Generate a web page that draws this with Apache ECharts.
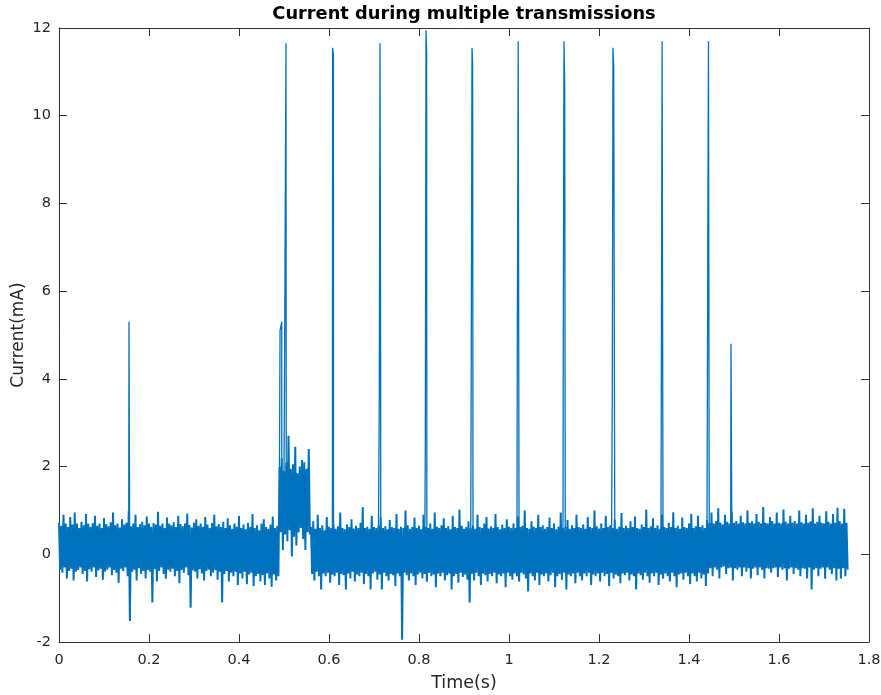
<!DOCTYPE html>
<html>
<head>
<meta charset="utf-8">
<script src="https://cdn.jsdelivr.net/npm/echarts@6/dist/echarts.min.js"></script>
<style>html,body{margin:0;padding:0;background:#fff}#c{width:881px;height:695px}</style>
</head>
<body>
<div id="c"></div>
<script>
// ---- data ----
const sampleStep = 0.005;          // seconds between band samples (upper at t, lower at t+step/2)
const xTicks = [0, 0.2, 0.4, 0.6, 0.8, 1, 1.2, 1.4, 1.6, 1.8];
const yTicks = [-2, 0, 2, 4, 6, 8, 10, 12];

// region A: 0.000 - 0.485 s (idle noise)
const idleUpper = [0.72,0.65,0.9,0.7,0.62,0.85,0.68,0.95,0.7,0.6,
0.74,0.66,0.92,0.7,0.63,0.71,0.88,0.65,0.7,0.6,
0.82,0.69,0.64,0.73,0.95,0.66,0.7,0.61,0.8,0.68,
0.72,1.0,0.64,0.7,0.9,0.62,0.69,0.74,0.66,0.86,
0.7,0.63,0.71,0.68,0.97,0.65,0.7,0.6,0.84,0.7,
0.66,0.73,0.62,0.88,0.69,0.64,0.7,0.93,0.67,0.61,
0.72,0.8,0.65,0.7,0.63,0.85,0.68,0.6,0.71,0.9,
0.64,0.69,0.62,0.74,0.6,0.82,0.66,0.58,0.7,0.63,
0.87,0.6,0.68,0.57,0.72,0.62,0.92,0.6,0.66,0.55,
0.7,0.8,0.62,0.58,0.68,0.86,0.6,0.65];
const idleLower = [-0.35,-0.42,-0.3,-0.55,-0.38,-0.33,-0.6,-0.4,-0.36,-0.3,
-0.45,-0.38,-0.62,-0.34,-0.4,-0.3,-0.52,-0.37,-0.33,-0.58,
-0.4,-0.35,-0.3,-0.48,-0.36,-0.42,-0.65,-0.33,-0.38,-0.3,
-0.5,-1.52,-0.4,-0.35,-0.6,-0.32,-0.45,-0.38,-0.55,-0.36,
-0.4,-1.1,-0.34,-0.62,-0.38,-0.3,-0.45,-0.56,-0.35,-0.4,
-0.33,-0.5,-0.38,-0.66,-0.36,-0.42,-0.3,-0.48,-1.22,-0.37,
-0.4,-0.55,-0.34,-0.44,-0.6,-0.38,-0.35,-0.5,-0.42,-0.36,
-0.58,-0.4,-1.1,-0.45,-0.38,-0.62,-0.42,-0.5,-0.4,-0.7,
-0.44,-0.55,-0.4,-0.68,-0.46,-0.42,-0.72,-0.5,-0.45,-0.62,
-0.48,-0.7,-0.44,-0.55,-0.74,-0.46,-0.6,-0.5];

// region B: 0.490 - 0.555 s (elevated)
const activeUpper = [2.0,2.2,1.9,2.1,2.7,1.95,2.05,2.45,1.85,2.0,2.15,2.1,1.95,2.4];
const activeLower = [0.5,0.1,0.45,0.3,0.55,-0.05,0.4,0.2,0.5,0.6,0.35,0.1,0.5,0.45];

// region C: 0.560 - 1.440 s
const txUpper = [0.62,0.75,0.58,0.9,0.6,0.66,0.55,0.85,0.63,0.6,
0.7,0.58,0.64,0.95,0.6,0.57,0.68,0.62,0.8,0.59,
0.65,0.6,0.72,1.08,0.6,0.63,0.58,0.88,0.62,0.6,
0.66,0.85,0.6,0.64,0.57,0.78,0.62,0.6,0.92,0.58,
0.63,0.6,1.0,0.66,0.58,0.62,0.84,0.6,0.65,0.57,
0.9,0.62,0.6,0.7,0.58,0.95,0.63,0.6,0.66,0.82,
0.6,0.64,0.57,0.88,0.62,0.6,1.02,0.65,0.58,0.62,
0.75,0.6,0.66,0.58,0.9,0.62,0.6,0.7,0.85,0.59,
0.64,0.6,0.92,0.62,0.57,0.68,0.6,0.8,0.63,0.6,
0.7,0.6,0.86,0.62,0.65,1.0,0.6,0.58,0.75,0.63,
0.6,0.9,0.62,0.66,0.58,0.62,0.84,0.6,0.7,0.57,
0.63,0.95,0.6,0.62,0.78,0.58,0.66,0.6,0.9,0.62,
0.6,0.68,0.58,0.85,0.62,0.6,1.0,0.64,0.59,0.7,
0.6,0.88,0.62,0.66,0.6,0.8,0.58,0.63,0.94,0.6,
0.65,0.6,0.75,0.62,0.86,0.6,0.58,0.68,0.62,1.02,
0.6,0.64,0.82,0.6,0.66,0.58,0.9,0.62,0.6,0.72,
0.62,0.96,0.6,0.65,0.58,0.84,0.62,0.6,0.7,0.92,
0.6,0.64,0.88,0.62,0.66,0.6,0.78];
const txLower = [-0.45,-0.6,-0.4,-0.5,-0.8,-0.44,-0.5,-0.42,-0.65,-0.46,
-0.5,-0.42,-0.7,-0.45,-0.48,-0.8,-0.44,-0.55,-0.4,-0.62,
-0.46,-0.5,-0.42,-0.68,-0.45,-0.5,-0.8,-0.44,-0.4,-0.58,
-0.46,-0.8,-0.42,-0.5,-0.6,-0.45,-0.48,-0.72,-0.44,-0.5,
-1.95,-0.42,-0.48,-0.6,-0.44,-0.5,-0.7,-0.46,-0.42,-0.55,
-0.45,-0.62,-0.42,-0.5,-0.46,-0.75,-0.44,-0.5,-0.42,-0.6,
-0.48,-0.44,-0.8,-0.5,-0.45,-0.65,-0.42,-0.52,-0.46,-0.58,
-1.1,-0.45,-0.6,-0.42,-0.5,-0.7,-0.44,-0.48,-0.62,-0.45,
-0.5,-0.42,-0.66,-0.46,-0.5,-0.44,-0.75,-0.42,-0.5,-0.58,
-0.44,-0.5,-0.62,-0.42,-0.46,-0.55,-0.85,-0.44,-0.5,-0.6,
-0.42,-0.7,-0.46,-0.5,-0.44,-0.62,-0.48,-0.42,-0.75,-0.5,
-0.45,-0.58,-0.42,-0.8,-0.46,-0.5,-0.44,-0.66,-0.42,-0.5,
-0.6,-0.44,-0.5,-0.42,-0.7,-0.46,-0.5,-0.44,-0.62,-0.42,
-0.5,-0.45,-0.72,-0.42,-0.55,-0.46,-0.5,-0.66,-0.44,-0.48,
-0.42,-0.6,-0.46,-0.5,-0.8,-0.44,-0.48,-0.58,-0.42,-0.5,
-0.65,-0.44,-0.5,-0.42,-0.7,-0.46,-0.55,-0.44,-0.5,-0.62,
-0.42,-0.5,-0.75,-0.46,-0.44,-0.58,-0.42,-0.5,-0.68,-0.44,
-0.5,-0.62,-0.42,-0.55,-0.46,-0.72,-0.44];

// region D: 1.445 - 1.750 s
const tailUpper = [0.72,0.95,0.7,0.75,1.05,0.72,0.68,0.9,0.74,0.7,
0.98,0.72,0.76,0.7,0.88,0.73,0.7,1.0,0.72,0.75,
0.7,0.92,0.74,0.7,1.08,0.72,0.7,0.85,0.76,0.7,
0.95,0.72,0.7,1.02,0.74,0.7,0.88,0.72,0.76,0.7,
1.0,0.73,0.7,0.9,0.72,0.75,1.05,0.7,0.74,0.88,
0.72,0.7,0.98,0.74,0.7,0.92,0.72,1.06,0.75,0.7,
1.04,0.72];
const tailLower = [-0.32,-0.5,-0.3,-0.35,-0.55,-0.3,-0.28,-0.45,-0.32,-0.3,
-0.6,-0.32,-0.35,-0.3,-0.5,-0.3,-0.4,-0.32,-0.55,-0.33,
-0.3,-0.48,-0.3,-0.35,-0.55,-0.32,-0.33,-0.42,-0.32,-0.3,
-0.52,-0.3,-0.35,-0.32,-0.6,-0.33,-0.3,-0.45,-0.32,-0.35,
-0.5,-0.32,-0.33,-0.55,-0.3,-0.8,-0.35,-0.32,-0.5,-0.33,
-0.3,-0.56,-0.3,-0.35,-0.45,-0.32,-0.6,-0.33,-0.55,-0.32,
-0.5,-0.35];

// first sample index of each region
const regionStart = [0, 98, 112, 289];

// transmission spikes
const spikeTime = [0.1556,
  0.4912, 0.4950,
  0.5015, 0.5044,
  0.6080, 0.6098,
  0.7118, 0.7133, 0.7148,
  0.8140, 0.8156, 0.8170,
  0.9160, 0.9178, 0.9192,
  1.0185, 1.0205,
  1.1205, 1.1222, 1.1238,
  1.2295, 1.2311, 1.2327,
  1.3385, 1.3402,
  1.4418, 1.4433, 1.4448,
  1.4933];
const spikeValue = [5.3,
  5.1, 5.3,
  4.8, 11.65,
  11.55, 11.4,
  3.6, 11.65, 4.0,
  2.4, 11.95, 11.43,
  4.0, 11.55, 11.2,
  5.0, 11.7,
  4.3, 11.7, 10.7,
  3.6, 11.55, 11.1,
  3.8, 11.7,
  7.05, 11.7, 1.5,
  4.8];

// ---- build the traces ----
const band = [];
function addRegion(start, up, lo) {
  for (let k = 0; k < up.length; k++) {
    const t = (start + k) * sampleStep;
    band.push([+t.toFixed(5), up[k]]);
    band.push([+(t + sampleStep / 2).toFixed(5), lo[k]]);
  }
}
addRegion(regionStart[0], idleUpper, idleLower);
addRegion(regionStart[1], activeUpper, activeLower);
addRegion(regionStart[2], txUpper, txLower);
addRegion(regionStart[3], tailUpper, tailLower);

// spikes: each burst joined to the band samples on either side, separated by gaps
const spikes = [];
let g = 0;
while (g < spikeTime.length) {
  let e = g;
  while (e + 1 < spikeTime.length && spikeTime[e + 1] - spikeTime[e] < 0.0045) e++;
  const t0 = spikeTime[g], t1 = spikeTime[e];
  let before = null, after = null;
  for (const p of band) { if (p[0] <= t0) before = p; if (p[0] >= t1 && !after) after = p; }
  if (before) spikes.push(before);
  for (let k = g; k <= e; k++) spikes.push([spikeTime[k], spikeValue[k]]);
  if (after) spikes.push(after);
  spikes.push([t1 + 0.0001, '-']);
  g = e + 1;
}

const axisColor = '#333333';
const textColor = '#262626';
const lineColor = '#0072BD';
const font = 'DejaVu Sans';

const chart = echarts.init(document.getElementById('c'), null, {renderer: 'canvas'});
chart.setOption({
  animation: false,
  backgroundColor: '#ffffff',
  title: {
    text: 'Current during multiple transmissions',
    left: 459, top: 0, textAlign: 'center',
    textStyle: {fontFamily: font, fontWeight: 'bold', fontSize: 17.8, color: '#000'}
  },
  grid: {left: 59, right: 12, top: 28, bottom: 53, containLabel: false, outerBoundsMode: 'none'},
  xAxis: [{
    type: 'value', min: xTicks[0], max: xTicks[xTicks.length - 1], interval: 0.2,
    position: 'bottom',
    name: 'Time(s)', nameLocation: 'middle', nameGap: 32,
    nameTextStyle: {fontFamily: font, fontSize: 17.5, color: textColor},
    axisLine: {show: true, onZero: false, lineStyle: {color: axisColor, width: 1}},
    axisTick: {show: true, inside: true, length: 8, lineStyle: {color: axisColor}},
    axisLabel: {fontFamily: font, fontSize: 14.5, color: textColor, margin: 11,
      formatter: v => String(+(+v).toFixed(1))},
    splitLine: {show: false}
  }, {
    type: 'value', min: xTicks[0], max: xTicks[xTicks.length - 1], interval: 0.2,
    position: 'top',
    axisLine: {show: true, onZero: false, lineStyle: {color: axisColor, width: 1}},
    axisTick: {show: true, inside: true, length: 8, lineStyle: {color: axisColor}},
    axisLabel: {show: false}, splitLine: {show: false}
  }],
  yAxis: [{
    type: 'value', min: yTicks[0], max: yTicks[yTicks.length - 1], interval: 2,
    position: 'left',
    name: 'Current(mA)', nameLocation: 'middle', nameGap: 32, nameRotate: 90,
    nameMoveOverlap: false,
    nameTextStyle: {fontFamily: font, fontSize: 17, color: textColor},
    axisLine: {show: true, onZero: false, lineStyle: {color: axisColor, width: 1}},
    axisTick: {show: true, inside: true, length: 8, lineStyle: {color: axisColor}},
    axisLabel: {fontFamily: font, fontSize: 14.5, color: textColor, margin: 8},
    splitLine: {show: false}
  }, {
    type: 'value', min: yTicks[0], max: yTicks[yTicks.length - 1], interval: 2,
    position: 'right',
    axisLine: {show: true, onZero: false, lineStyle: {color: axisColor, width: 1}},
    axisTick: {show: true, inside: true, length: 8, lineStyle: {color: axisColor}},
    axisLabel: {show: false}, splitLine: {show: false}
  }],
  series: [{
    type: 'line', xAxisIndex: 0, yAxisIndex: 0,
    data: band, showSymbol: false, symbol: 'none',
    lineStyle: {color: lineColor, width: 2, join: 'miter', miterLimit: 1},
    silent: true, clip: true
  }, {
    type: 'line', xAxisIndex: 0, yAxisIndex: 0,
    data: spikes, showSymbol: false, symbol: 'none', connectNulls: false,
    lineStyle: {color: lineColor, width: 1.3, join: 'miter', miterLimit: 1},
    silent: true, clip: true
  }]
});
</script>
</body>
</html>
